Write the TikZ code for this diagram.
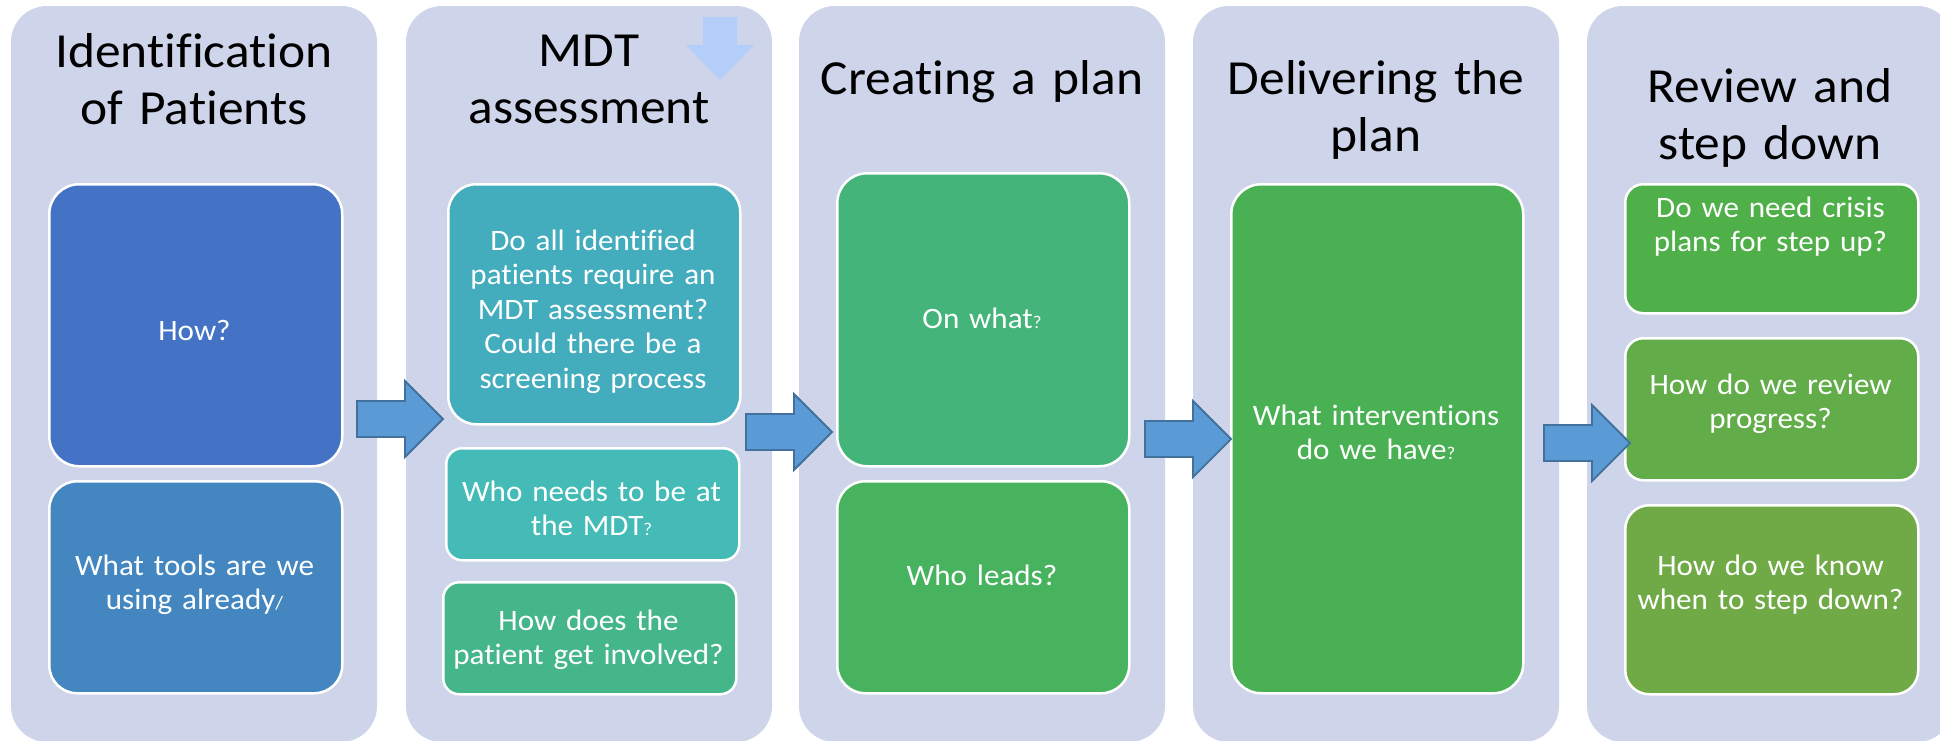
\documentclass[tikz,border=0pt]{standalone}
\usepackage{fontspec}
\setmainfont[FakeStretch=1.05, Ligatures=NoCommon]{Carlito}
\definecolor{panelc}{RGB}{206,212,234}
\definecolor{cHow}{RGB}{68,114,196}
\definecolor{cTools}{RGB}{67,134,192}
\definecolor{cDoAll}{RGB}{67,172,189}
\definecolor{cWho}{RGB}{68,187,182}
\definecolor{cInv}{RGB}{69,182,137}
\definecolor{cOn}{RGB}{69,180,122}
\definecolor{cLead}{RGB}{71,179,95}
\definecolor{cDel}{RGB}{73,177,83}
\definecolor{cCrisis}{RGB}{79,175,72}
\definecolor{cRev}{RGB}{98,173,73}
\definecolor{cKnow}{RGB}{112,170,70}
\definecolor{arrfill}{RGB}{91,155,213}
\definecolor{arrline}{RGB}{65,113,156}
\definecolor{lightarr}{RGB}{180,206,250}
\newcommand\smq{{\fontsize{18}{20}\selectfont ?}}
\newcommand\smsl{{\fontsize{19}{20}\selectfont /}}
\begin{document}
\begin{tikzpicture}[x=1pt,y=-1pt,
  panelbox/.style={rectangle, rounded corners=36pt, fill=panelc, inner sep=0pt, outer sep=0pt, anchor=north west, minimum width=366pt, minimum height=736pt},
  qbox/.style={rectangle, draw=white, line width=2.5pt, inner sep=0pt, anchor=north west},
  titletxt/.style={font=\fontsize{49}{57}\selectfont, text width=360pt, align=center, anchor=base, inner sep=0pt},
  bodytxt/.style={font=\fontsize{29.6}{34.5}\selectfont, text=white, text width=300pt, align=center, anchor=base, inner sep=0pt},
  blockarrow/.style={fill=arrfill, draw=arrline, line width=1.8pt, line join=miter}
]
\useasboundingbox (0,0) rectangle (1940,740);
\clip (0,0) rectangle (1940,740);

% panels
\node[panelbox] (p1) at (11,6) {};
\node[panelbox] (p2) at (406,6) {};
\node[panelbox] (p3) at (799,6) {};
\node[panelbox] (p4) at (1193,6) {};
\node[panelbox] (p5) at (1587,6) {};

% light down arrow in panel 2
\coordinate (da) at (720,17);
\fill[lightarr] (da) ++(-17,0) -- ++(34,0) -- ++(0,28) -- ++(17,0) -- ++(-34,35) -- ++(-34,-35) -- ++(17,0) -- cycle;

% titles
\node[titletxt] (t1) at (194,67) {Identification\\of Patients};
\node[titletxt] (t2) at (589,66) {MDT\\assessment};
\node[titletxt] (t3) at (982,94) {Creating a plan};
\node[titletxt] (t4) at (1376,94) {Delivering the\\plan};
\node[titletxt] (t5) at (1770,102) {Review and\\step down};

% boxes
\node[qbox, fill=cHow, rounded corners=30pt, minimum width=293pt, minimum height=282pt] (bHow) at (48,183) {};
\node[qbox, fill=cTools, rounded corners=28pt, minimum width=293pt, minimum height=212pt] (bTools) at (48,480) {};
\node[qbox, fill=cDoAll, rounded corners=28pt, minimum width=292pt, minimum height=240pt] (bDoAll) at (447,183) {};
\node[qbox, fill=cWho, rounded corners=16pt, minimum width=293pt, minimum height=112pt] (bWho) at (445,447) {};
\node[qbox, fill=cInv, rounded corners=16pt, minimum width=293pt, minimum height=112pt] (bInv) at (442,581) {};
\node[qbox, fill=cOn, rounded corners=30pt, minimum width=292pt, minimum height=293pt] (bOn) at (836,172) {};
\node[qbox, fill=cLead, rounded corners=28pt, minimum width=292pt, minimum height=212pt] (bLead) at (836,480) {};
\node[qbox, fill=cDel, rounded corners=30pt, minimum width=292pt, minimum height=509pt] (bDel) at (1230,183) {};
\node[qbox, fill=cCrisis, rounded corners=18pt, minimum width=293pt, minimum height=129pt] (bCrisis) at (1624,183) {};
\node[qbox, fill=cRev, rounded corners=18pt, minimum width=293pt, minimum height=142pt] (bRev) at (1624,337) {};
\node[qbox, fill=cKnow, rounded corners=24pt, minimum width=293pt, minimum height=189pt] (bKnow) at (1624,504) {};

% box texts
\node[bodytxt] (xHow) at (194.5,340) {How?};
\node[bodytxt] (xTools) at (194.5,575) {What tools are we\\using already\smsl};
\node[bodytxt] (xDoAll) at (593,250) {Do all identified\\patients require an\\MDT assessment?\\Could there be a\\screening process};
\node[bodytxt] (xWho) at (591.5,501) {Who needs to be at\\the MDT\smq};
\node[bodytxt] (xInv) at (588.5,630) {How does the\\patient get involved?};
\node[bodytxt] (xOn) at (982,328) {On what\smq};
\node[bodytxt] (xLead) at (982,585) {Who leads?};
\node[bodytxt] (xDel) at (1376,425) {What interventions\\do we have\smq};
\node[bodytxt] (xCrisis) at (1770.5,217) {Do we need crisis\\plans for step up?};
\node[bodytxt] (xRev) at (1770.5,394) {How do we review\\progress?};
\node[bodytxt] (xKnow) at (1770.5,575) {How do we know\\when to step down?};

% block arrows between panels
\coordinate (a1) at (357,419);
\coordinate (a2) at (746,432);
\coordinate (a3) at (1145,439);
\coordinate (a4) at (1544,443);
\foreach \a in {a1,a2,a3,a4}{
  \draw[blockarrow] (\a) ++(0,-18) -- ++(48,0) -- ++(0,-20) -- ++(38,38) -- ++(-38,38) -- ++(0,-20) -- ++(-48,0) -- cycle;
}
\end{tikzpicture}
\end{document}
